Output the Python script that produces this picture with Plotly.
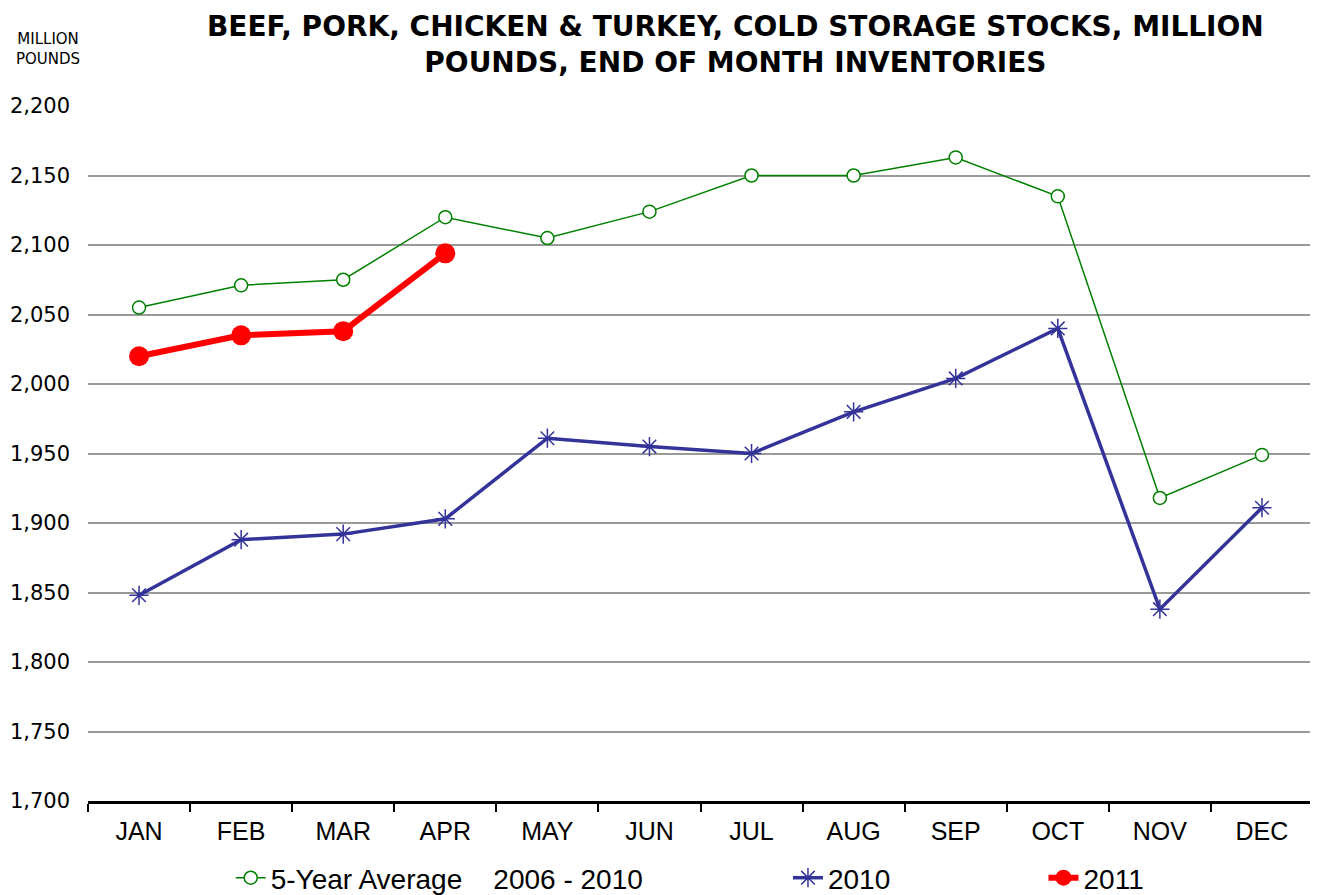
import plotly.graph_objects as go

months = ["JAN", "FEB", "MAR", "APR", "MAY", "JUN", "JUL", "AUG", "SEP", "OCT", "NOV", "DEC"]
avg_5yr = [2055, 2071, 2075, 2120, 2105, 2124, 2150, 2150, 2163, 2135, 1918, 1949]
y2010 = [1848, 1888, 1892, 1903, 1961, 1955, 1950, 1980, 2004, 2040, 1838, 1911]
y2011 = [2020, 2035, 2038, 2094]

fig = go.Figure()

fig.add_trace(go.Scatter(
    x=months, y=avg_5yr, mode="lines+markers",
    name="5-Year Average    2006 - 2010",
    line=dict(color="#008000", width=1.5),
    marker=dict(symbol="circle", size=13, color="white", line=dict(color="#008000", width=1.5)),
    legend="legend",
))
fig.add_trace(go.Scatter(
    x=months, y=y2010, mode="lines+markers",
    name="2010",
    line=dict(color="#333399", width=3.5),
    marker=dict(symbol="asterisk", size=16, color="#333399", line=dict(color="#333399", width=1.5)),
    legend="legend2",
))
fig.add_trace(go.Scatter(
    x=months[:len(y2011)], y=y2011, mode="lines+markers",
    name="2011",
    line=dict(color="#FF0000", width=6),
    marker=dict(symbol="circle", size=20, color="#FF0000"),
    legend="legend3",
))

# legends sit in container coords so they don't push the bottom margin
leg_font = dict(family="Liberation Sans, sans-serif", size=28)
leg_common = dict(orientation="h", yref="container", y=0.0, yanchor="bottom",
                  xanchor="left", font=leg_font, bgcolor="rgba(0,0,0,0)")

fig.update_layout(
    width=1318, height=895,
    paper_bgcolor="white", plot_bgcolor="white",
    margin=dict(l=80, r=13, t=98, b=102),
    font=dict(family="DejaVu Sans, Verdana, sans-serif", color="black"),
    showlegend=True,
    legend=dict(x=0.1165, **leg_common),
    legend2=dict(x=0.5714, **leg_common),
    legend3=dict(x=0.780, **leg_common),
    annotations=[
        dict(
            text="BEEF, PORK, CHICKEN & TURKEY, COLD STORAGE STOCKS, MILLION<br>POUNDS, END OF MONTH INVENTORIES",
            xref="paper", yref="paper", x=(735 - 88) / 1225, y=1.089,
            xanchor="center", yanchor="middle", showarrow=False, align="center",
            font=dict(family="DejaVu Sans, sans-serif", size=28, color="black", weight="bold"),
        ),
        dict(
            text="MILLION<br>POUNDS", xref="paper", yref="paper",
            x=-0.033, y=1.082, xanchor="center", yanchor="middle",
            showarrow=False, align="center",
            font=dict(family="DejaVu Sans, sans-serif", size=15),
        ),
    ],
)

fig.update_xaxes(
    type="category", range=[-0.5, 11.5], tickson="boundaries", ticks="outside",
    ticklen=8, tickwidth=1.5, tickcolor="black", showline=True, linecolor="black",
    linewidth=2.5, showgrid=False, automargin=False, ticklabelstandoff=6,
    tickfont=dict(size=25, family="Liberation Sans, sans-serif"),
)
fig.update_yaxes(
    range=[1700, 2200], dtick=50, tickformat=",", showgrid=True,
    gridcolor="#999999", gridwidth=1.5, zeroline=False, showline=False,
    ticks="", automargin=False, ticklabelstandoff=17,
    tickfont=dict(size=21, family="DejaVu Sans, sans-serif"),
)

fig.write_html("out.html")
